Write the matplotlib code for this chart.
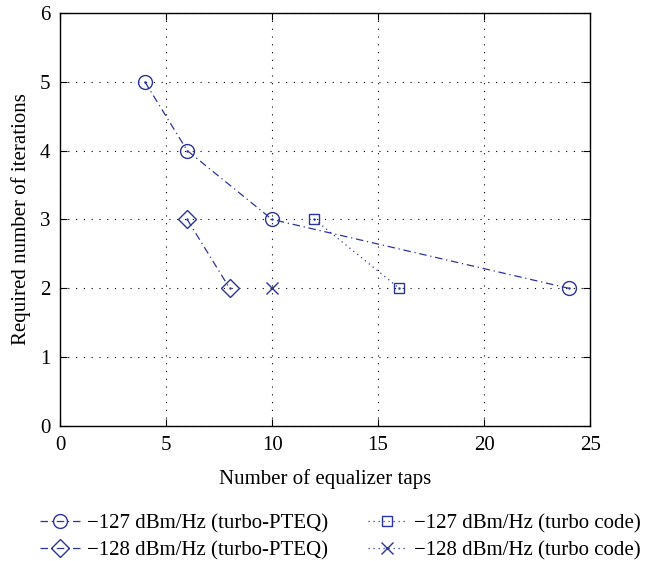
import matplotlib
matplotlib.use("Agg")
import matplotlib.pyplot as plt

plt.rcParams['font.family'] = ['Liberation Serif', 'DejaVu Serif']

# data
x_pteq127 = [4, 6, 10, 24]
y_pteq127 = [5, 4, 3, 2]
x_pteq128 = [6, 8]
y_pteq128 = [3, 2]
x_tc127 = [12, 16]
y_tc127 = [3, 2]
x_tc128 = [10]
y_tc128 = [2]

labels = ['\u2212127 dBm/Hz (turbo-PTEQ)', '\u2212128 dBm/Hz (turbo-PTEQ)',
          '\u2212127 dBm/Hz (turbo code)', '\u2212128 dBm/Hz (turbo code)']

col = '#2b3599'

fig = plt.figure(figsize=(6.45, 5.61), dpi=100)
ax = fig.add_axes([0.093, 0.2406, 0.822, 0.7364])

series = [
    (x_pteq127, y_pteq127, 'o', (0, (6, 3, 1, 3)), 10),
    (x_pteq128, y_pteq128, 'D', (0, (6, 3, 1, 3)), 9),
    (x_tc127, y_tc127, 's', (0, (1, 3)), 7),
    (x_tc128, y_tc128, 'x', (0, (1, 3)), 8),
]
handles = []
for (xs, ys, m, ls, ms), lab in zip(series, labels):
    h, = ax.plot(xs, ys, color=col, linestyle=ls, linewidth=0.9, marker=m,
                 markersize=ms, markerfacecolor='none', markeredgecolor=col,
                 markeredgewidth=1.0, label=lab)
    if m != 'x':
        ax.plot(xs, ys, linestyle='none', marker='.', markersize=1.5, color=col)
    handles.append(h)

ax.set_xlim(0, 25)
ax.set_ylim(0, 6)
ax.set_xticks([0, 5, 10, 15, 20, 25])
ax.set_yticks([0, 1, 2, 3, 4, 5, 6])
ax.grid(True, color='black', linestyle=(0, (1, 6)), linewidth=0.8)
ax.tick_params(direction='in', labelsize=15, length=5, top=True, right=True)
ax.tick_params(axis='x', pad=7)
ax.tick_params(axis='y', pad=7)
ax.set_xlabel('Number of equalizer taps', fontsize=15)
ax.xaxis.set_label_coords(0.5, -0.105)
ax.set_ylabel('Required number of iterations', fontsize=15, labelpad=6)
for s in ax.spines.values():
    s.set_linewidth(1.0)

fig.legend(handles=handles, loc='upper center', bbox_to_anchor=(0.528, 0.117),
           ncol=2, frameon=False, fontsize=15, handlelength=1.9,
           handletextpad=0.35, columnspacing=1.9, labelspacing=0.35)

fig.savefig('out.png', dpi=100)
